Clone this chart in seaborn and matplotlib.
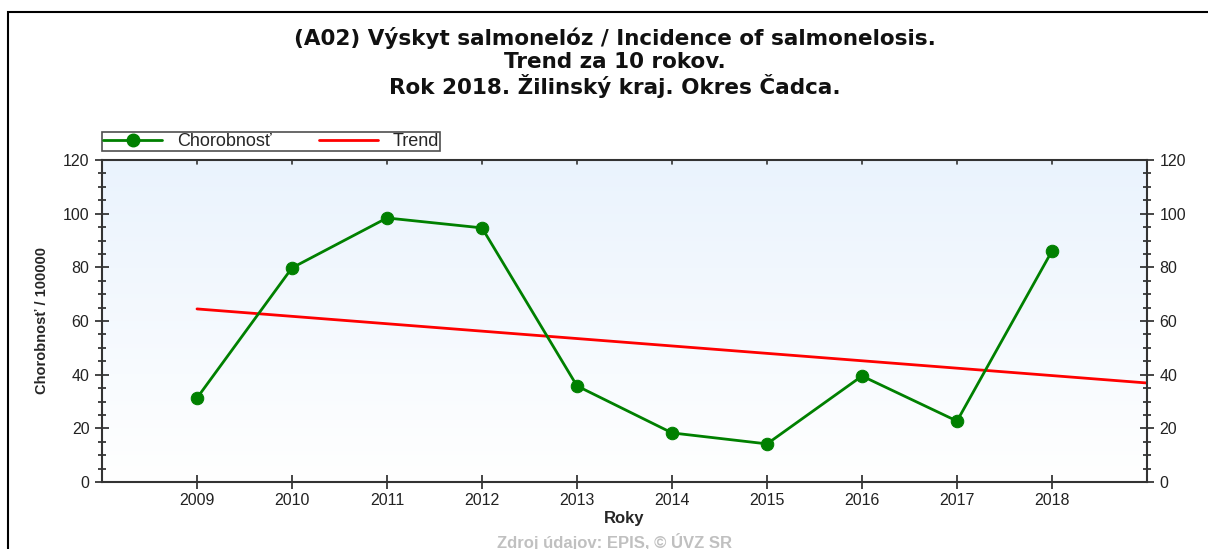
import numpy as np
import pandas as pd
import matplotlib
matplotlib.use("Agg")
import matplotlib.pyplot as plt
import seaborn as sns
from matplotlib.patches import Rectangle
from matplotlib.lines import Line2D
from matplotlib.ticker import MultipleLocator

# data
years = [2009, 2010, 2011, 2012, 2013, 2014, 2015, 2016, 2017, 2018]
incidence = [31.3, 79.8, 98.4, 94.7, 35.8, 18.3, 14.2, 39.5, 22.7, 86.1]
trend_years = [2009, 2019]
trend_values = [64.5, 36.9]

title_lines = ["(A02) Výskyt salmonelóz / Incidence of salmonelosis.",
               "Trend za 10 rokov.",
               "Rok 2018. Žilinský kraj. Okres Čadca."]

sns.set_style("white")
plt.rcParams['font.family'] = ['Liberation Sans', 'DejaVu Sans']

df = pd.DataFrame({"Roky": years, "Chorobnost": incidence})
df_trend = pd.DataFrame({"Roky": trend_years, "Trend": trend_values})

fig = plt.figure(figsize=(12.08, 5.49), dpi=100)
ax = fig.add_axes([102/1208, 1 - 482/549, (1147-102)/1208, (482-160)/549])

# light blue gradient background
grad = np.linspace(0, 1, 256).reshape(-1, 1)
cmap = matplotlib.colors.LinearSegmentedColormap.from_list("bg", ["#ffffff", "#eaf3fd"])
ax.imshow(grad, aspect="auto", cmap=cmap, origin="lower",
          extent=[2008, 2019, 0, 120], zorder=0)

sns.lineplot(data=df_trend, x="Roky", y="Trend", color="#ff0000", lw=2, ax=ax, zorder=2)
sns.lineplot(data=df, x="Roky", y="Chorobnost", color="#008000", lw=2, marker="o",
             markersize=9, markeredgecolor="#008000", ax=ax, zorder=3)

ax.set_xlim(2008, 2019)
ax.set_ylim(0, 120)
ax.set_xticks(years)
ax.set_xticklabels([str(y) for y in years])
ax.yaxis.set_major_locator(MultipleLocator(20))
ax.yaxis.set_minor_locator(MultipleLocator(5))
ax.tick_params(axis="y", which="major", direction="inout", length=10, width=1.2,
               labelsize=11.5, left=True, right=True, labelleft=True, labelright=True,
               pad=4, labelcolor="#222222")
ax.tick_params(axis="y", which="minor", direction="inout", length=6, width=1.2,
               left=True, right=True)
ax.tick_params(axis="x", which="major", direction="inout", length=10, width=1.2,
               bottom=True, top=False, labelsize=11.5, pad=3, labelcolor="#222222")
for y in years:
    ax.plot([y, y], [120, 118.5], color="#333333", lw=1.2, clip_on=False, zorder=4)

for s in ["left", "right", "bottom", "top"]:
    ax.spines[s].set_color("#333333")
    ax.spines[s].set_linewidth(1.5)

ax.set_xlabel("Roky", fontsize=12, fontweight="bold", labelpad=2)
ax.set_ylabel("Chorobnosť / 100000", fontsize=10.5, fontweight="bold", labelpad=10)

handles = [Line2D([], [], color="#008000", lw=2, marker="o", markersize=9),
           Line2D([], [], color="#ff0000", lw=2)]
leg = ax.legend(handles, ["Chorobnosť", "Trend"], ncol=2, loc="lower left",
                bbox_to_anchor=(0, 1.028, 338/1045, 0.065), mode="expand",
                fontsize=13, frameon=True, fancybox=False, borderpad=0.05,
                handlelength=3.3, handletextpad=0.8, columnspacing=1.5,
                borderaxespad=0)
leg.get_frame().set_edgecolor("#222222")
leg.get_frame().set_linewidth(1.2)

for line, yb in zip(title_lines, [45, 68, 94]):
    fig.text(0.509, 1 - yb/549, line, ha="center", va="baseline", fontsize=15.5,
             fontweight="bold", color="#111111", family="DejaVu Sans")
fig.text(0.509, 1 - 542/549, "Zdroj údajov: EPIS, © ÚVZ SR", ha="center",
         va="center", fontsize=12, color="#c0c0c0", fontweight="bold")

# frame around the whole picture (open on the right and bottom edges)
fig.patches.append(Rectangle((8/1208, -0.1), 1.1, 1.1 - 12/549,
                             transform=fig.transFigure, fill=False,
                             edgecolor="black", lw=1.5))

fig.savefig("out.png", dpi=100)
